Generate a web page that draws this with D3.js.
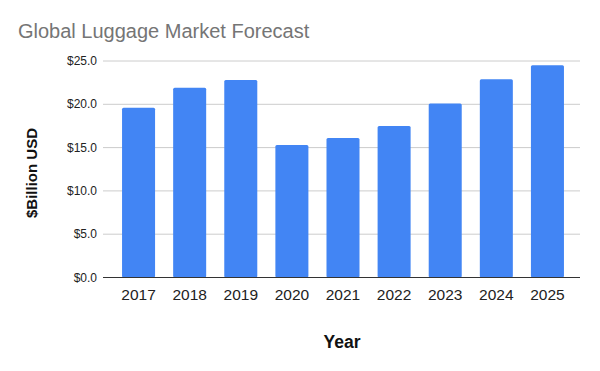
<!DOCTYPE html>
<html>
<head>
    <meta charset="utf-8">
    <title>Global Luggage Market Forecast</title>
    <script src="https://d3js.org/d3.v7.min.js"></script>
    <style>
        body { margin: 0; background: #fff; }
        text { font-family: "Liberation Sans", Arial, sans-serif; }
    </style>
</head>
<body>
    <div id="chart"></div>
    <script>
        const years = ["2017", "2018", "2019", "2020", "2021", "2022", "2023", "2024", "2025"];
        const revenue = [19.6, 21.9, 22.8, 15.3, 16.1, 17.5, 20.1, 22.9, 24.5];
        const yTicks = [0, 5, 10, 15, 20, 25];

        const width = 600, height = 371;
        const plot = {left: 103, right: 580, top: 61, bottom: 277.5};

        const svg = d3.select("#chart")
          .append("svg")
            .attr("width", width)
            .attr("height", height);

        const x = d3.scaleBand()
            .domain(years)
            .range([113, 573])
            .paddingInner(0.354)
            .paddingOuter(0.177);

        const y = d3.scaleLinear()
            .domain([0, 25])
            .range([plot.bottom, plot.top]);

        // gridlines
        svg.append("g")
          .selectAll("line")
          .data(yTicks.filter(d => d > 0))
          .join("line")
            .attr("x1", plot.left)
            .attr("x2", plot.right)
            .attr("y1", d => y(d))
            .attr("y2", d => y(d))
            .attr("stroke", "#cccccc")
            .attr("stroke-width", 1);

        // y labels
        svg.append("g")
          .selectAll("text")
          .data(yTicks)
          .join("text")
            .attr("x", 97)
            .attr("y", d => y(d) + 4)
            .attr("text-anchor", "end")
            .attr("font-size", 12)
            .attr("fill", "#222")
            .text(d => "$" + d.toFixed(1));

        // bars
        svg.append("g")
          .selectAll("rect")
          .data(revenue)
          .join("rect")
            .attr("x", (d, i) => x(years[i]))
            .attr("width", x.bandwidth())
            .attr("y", d => y(d))
            .attr("height", d => y(0) - y(d))
            .attr("rx", 1.5)
            .attr("fill", "#4285f4");

        // baseline
        svg.append("line")
            .attr("x1", plot.left)
            .attr("x2", plot.right)
            .attr("y1", y(0))
            .attr("y2", y(0))
            .attr("stroke", "#333")
            .attr("stroke-width", 1);

        // x labels
        svg.append("g")
          .selectAll("text")
          .data(years)
          .join("text")
            .attr("x", d => x(d) + x.bandwidth() / 2)
            .attr("y", 300)
            .attr("text-anchor", "middle")
            .attr("font-size", 15.5)
            .attr("fill", "#222")
            .text(d => d);

        svg.append("text")
            .attr("x", 18)
            .attr("y", 38)
            .attr("font-size", 20)
            .attr("fill", "#757575")
            .text("Global Luggage Market Forecast");

        svg.append("text")
            .attr("x", 342)
            .attr("y", 348)
            .attr("text-anchor", "middle")
            .attr("font-size", 17.5)
            .attr("font-weight", "bold")
            .attr("fill", "#111")
            .text("Year");

        svg.append("text")
            .attr("transform", "translate(37,173) rotate(-90)")
            .attr("text-anchor", "middle")
            .attr("font-size", 15)
            .attr("font-weight", "bold")
            .attr("fill", "#111")
            .text("$Billion USD");
    </script>
</body>
</html>
